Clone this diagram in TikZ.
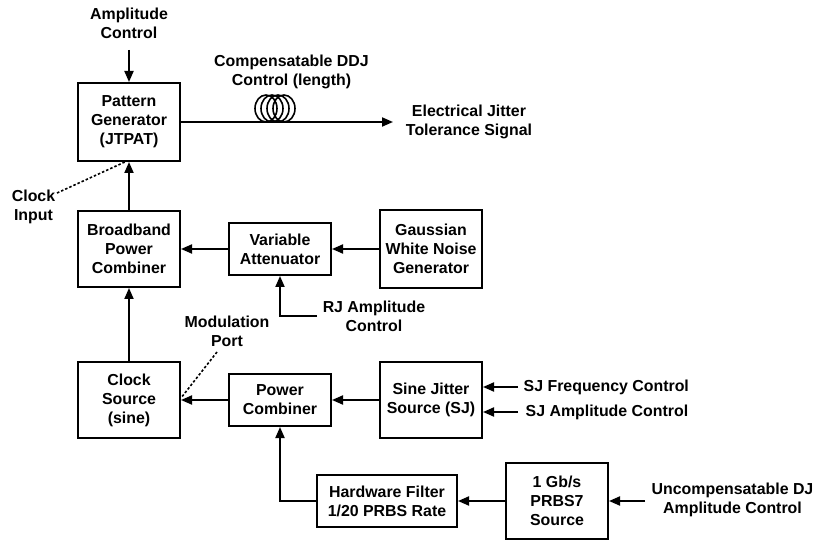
\documentclass[tikz,border=0pt]{standalone}
\usepackage{fontspec}
\setmainfont{Liberation Sans}
\usetikzlibrary{arrows.meta}
\begin{document}
\begin{tikzpicture}[x=1pt,y=-1pt,
  every node/.style={font=\fontsize{15.9}{19}\selectfont\bfseries, align=center, inner sep=0pt},
  blk/.style={draw, line width=2pt, minimum width=102pt},
  conn/.style={line width=2pt, -{Triangle[length=11pt,width=9pt]}},
  dots/.style={line width=1.6pt, dash pattern=on 2.5pt off 2pt},
  coil/.style={line width=1.6pt}]
\path[use as bounding box] (0,0) rectangle (817,540);

% blocks
\node[blk, minimum height=78pt] (pg) at (129,122) {Pattern\\Generator\\(JTPAT)};
\node[blk, minimum height=76pt] (bpc) at (129,249) {Broadband\\Power\\Combiner};
\node[blk, minimum height=52pt] (va) at (280,249) {Variable\\Attenuator};
\node[blk, minimum height=78pt] (gw) at (431,249) {Gaussian\\White Noise\\Generator};
\node[blk, minimum height=76pt] (cs) at (129,400) {Clock\\Source\\(sine)};
\node[blk, minimum height=52pt] (pc) at (280,400) {Power\\Combiner};
\node[blk, minimum height=76pt] (sj) at (431,400) {Sine Jitter\\Source (SJ)};
\node[blk, minimum height=52pt, minimum width=140pt] (hf) at (387,501) {Hardware Filter\\1/20 PRBS Rate};
\node[blk, minimum height=76pt] (prbs) at (557,501) {1 Gb/s\\PRBS7\\Source};

% labels
\node (amp) at (129,23.5) {Amplitude\\Control};
\node (ddj) at (291.5,72) {Compensatable DDJ\\Control (length)};
\node (ejt) at (469,121.5) {Electrical Jitter\\Tolerance Signal};
\node (clk) at (33.5,206.5) {Clock\\Input};
\node (rj) at (374,316.5) {RJ Amplitude\\Control};
\node (mod) at (227,331.5) {Modulation\\Port};
\node[anchor=west] (sjf) at (523.5,387) {SJ Frequency Control};
\node[anchor=west] (sja) at (525.5,412) {SJ Amplitude Control};
\node (udj) at (732.5,499.5) {Uncompensatable DJ\\Amplitude Control};

% coordinates
\coordinate (ampEnd) at (129,50);
\coordinate (outEnd) at (393,122);
\coordinate (clkA) at (57,193);
\coordinate (clkB) at (127,161);
\coordinate (modA) at (217,352);
\coordinate (modB) at (181,398);
\coordinate (rjS) at (317,316);
\coordinate (rjC) at (280,316);
\coordinate (sjfS) at (518,387);
\coordinate (sjaS) at (518,412);
\coordinate (hfC) at (280,501);
\coordinate (udjS) at (645,501);

% connectors
\draw[conn] (ampEnd) -- (pg.north);
\draw[conn] (pg.east) -- (outEnd);
\draw[conn] (bpc.north) -- (pg.south);
\draw[conn] (va.west) -- (bpc.east);
\draw[conn] (gw.west) -- (va.east);
\draw[conn] (rjS) -- (rjC) -- (va.south);
\draw[conn] (cs.north) -- (bpc.south);
\draw[conn] (pc.west) -- (cs.east);
\draw[conn] (sj.west) -- (pc.east);
\draw[conn] (sjfS) -- (sjfS -| sj.east);
\draw[conn] (sjaS) -- (sjaS -| sj.east);
\draw[conn] (hf.west) -- (hfC) -- (pc.south);
\draw[conn] (prbs.west) -- (hf.east);
\draw[conn] (udjS) -- (udjS -| prbs.east);
\draw[dots] (clkA) -- (clkB);
\draw[dots] (modA) -- (modB);

% coil
\foreach \cx in {266,272,278,284}
  \draw[coil] (\cx,108.5) ellipse [x radius=11, y radius=13.5];
\end{tikzpicture}
\end{document}
